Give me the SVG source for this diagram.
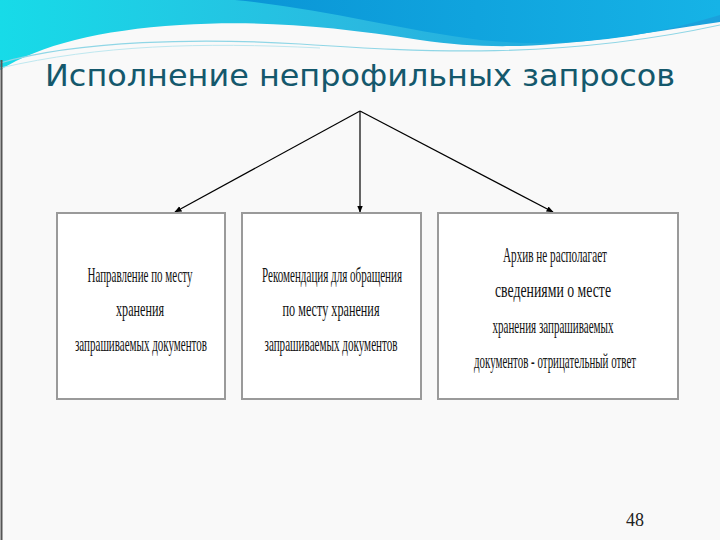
<svg xmlns="http://www.w3.org/2000/svg" width="720" height="540" viewBox="0 0 720 540">
<defs>
<linearGradient id="g1" x1="0" y1="0" x2="1" y2="0"><stop offset="0" stop-color="#17dbe8"/><stop offset="0.5" stop-color="#2ab9e0"/><stop offset="1" stop-color="#1aa0dc"/></linearGradient>
<linearGradient id="g2" x1="0" y1="0" x2="1" y2="0"><stop offset="0" stop-color="#0a95d6"/><stop offset="1" stop-color="#16b3e6"/></linearGradient>
<marker id="ah" viewBox="0 0 10 10" refX="9" refY="5" markerWidth="6" markerHeight="6" orient="auto"><path d="M0,1 L10,5 L0,9 z" fill="#000"/></marker>
</defs>
<style>
.box{fill:#fff;stroke:#9a9a9a;stroke-width:2}
.t{font-family:"Liberation Serif",serif;font-size:21px;fill:#111;text-anchor:middle}
.c{stroke:#000;stroke-width:1.2;fill:none;marker-end:url(#ah)}
</style>
<rect width="720" height="540" fill="#f9f9f9"/>
<path d="M0,0 H720 V22 C600,40 520,55 420,40 C330,26 260,20 180,25 C100,30 40,45 0,70 Z" fill="url(#g1)"/>
<path d="M235,0 H720 V15 C640,40 560,48 480,40 C400,30 320,8 235,0 Z" fill="url(#g2)"/>
<path d="M0,63 C80,40 200,38 300,44 C420,52 560,60 720,25" stroke="#8fd6e6" stroke-width="1.2" fill="none"/>
<path d="M0,68 C100,45 200,42 320,48" stroke="#bfe8f0" stroke-width="1" fill="none"/>
<line x1="1.5" y1="60" x2="1.5" y2="540" stroke="#555" stroke-width="2"/>
<text x="360" y="86" font-family="'DejaVu Sans',sans-serif" font-size="31" fill="#14586c" text-anchor="middle" textLength="630" lengthAdjust="spacingAndGlyphs">Исполнение непрофильных запросов</text>
<g id="connectors">
<line class="c" x1="360" y1="111" x2="175" y2="212"/>
<line class="c" x1="360" y1="111" x2="360" y2="212"/>
<line class="c" x1="360" y1="111" x2="553" y2="212"/>
</g>
<g id="n1"><rect class="box" x="57" y="213" width="168" height="186"/>
<text class="t" x="140" y="282" textLength="105" lengthAdjust="spacingAndGlyphs">Направление по месту</text>
<text class="t" x="140" y="316" textLength="48" lengthAdjust="spacingAndGlyphs">хранения</text>
<text class="t" x="141" y="351" textLength="132" lengthAdjust="spacingAndGlyphs">запрашиваемых документов</text></g>
<g id="n2"><rect class="box" x="242" y="213" width="179" height="186"/>
<text class="t" x="332" y="282" textLength="140" lengthAdjust="spacingAndGlyphs">Рекомендация для обращения</text>
<text class="t" x="331" y="316" textLength="97" lengthAdjust="spacingAndGlyphs">по месту хранения</text>
<text class="t" x="331" y="351" textLength="133" lengthAdjust="spacingAndGlyphs">запрашиваемых документов</text></g>
<g id="n3"><rect class="box" x="438" y="213" width="240" height="186"/>
<text class="t" x="555" y="262" textLength="104" lengthAdjust="spacingAndGlyphs">Архив не располагает</text>
<text class="t" x="553" y="297" textLength="116" lengthAdjust="spacingAndGlyphs">сведениями о месте</text>
<text class="t" x="553" y="333" textLength="121" lengthAdjust="spacingAndGlyphs">хранения запрашиваемых</text>
<text class="t" x="555" y="368" textLength="162" lengthAdjust="spacingAndGlyphs">документов - отрицательный ответ</text></g>
<text x="635" y="526" font-family="'Liberation Serif',serif" font-size="18" fill="#222" text-anchor="middle">48</text>
</svg>
